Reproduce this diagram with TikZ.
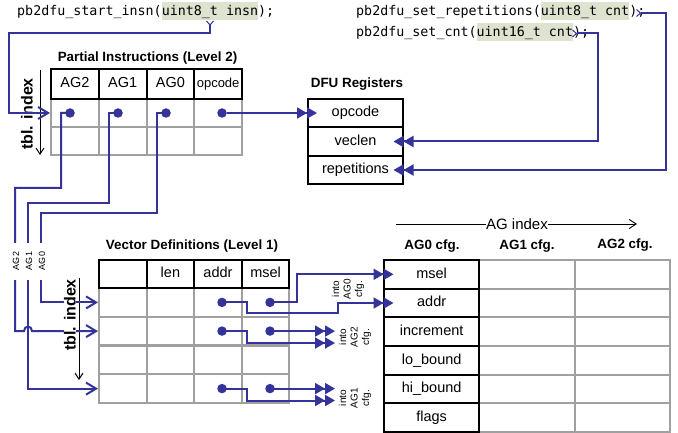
\documentclass[tikz,border=0pt]{standalone}
\usepackage{fontspec}
\setmainfont{Liberation Sans}
\setsansfont{Liberation Sans}
\setmonofont{DejaVu Sans Mono}
\usetikzlibrary{arrows.meta,calc}

\definecolor{linec}{RGB}{51,51,153}
\definecolor{gridgray}{RGB}{160,160,160}
\definecolor{hlgreen}{RGB}{221,227,207}

% shaded argument list in the API prototypes
\newcommand\argbox[1]{{\setlength{\fboxsep}{0pt}\colorbox{hlgreen}{\rule[-4.5pt]{0pt}{18pt}#1}}}

\tikzset{
  x=1pt, y=-1pt,
  dtri/.tip={Triangle[length=10pt,width=11pt] Triangle[length=10pt,width=11pt]},
  feedtip/.tip={Straight Barb[length=10pt,width=12pt]},
  marktip/.tip={Straight Barb[reversed,length=4pt,width=7pt,line width=1pt]},
  flow/.style={draw=linec, line width=2pt},
  cell/.style={draw=gridgray, line width=2pt, inner sep=0pt,
    text height=10.4pt, text depth=2.6pt,
    font=\fontsize{14.5}{17}\selectfont},
  hcell/.style={cell, draw=black},
  dot/.style={circle, fill=linec, inner sep=0pt, minimum size=9.5pt},
  title/.style={font=\bfseries\fontsize{13.4}{16}\selectfont, inner sep=0pt, anchor=base},
  code/.style={font=\ttfamily\fontsize{13.34}{16}\selectfont, inner sep=0pt, anchor=base west},
  guide/.style={draw=black, line width=1pt, -{Straight Barb[length=6pt,width=8pt]}},
  tblidx/.style={rotate=90, font=\bfseries\fontsize{16}{19}\selectfont, inner sep=0pt},
  intolab/.style={rotate=90, align=center, font=\fontsize{10}{11.5}\selectfont, inner sep=0pt},
  vlab/.style={rotate=90, font=\fontsize{9}{10}\selectfont, inner sep=0pt, fill=white,
    minimum width=37pt, minimum height=6pt,
    path picture={\draw[linec!55, densely dotted, line width=1pt]
      (path picture bounding box.west) -- (path picture bounding box.east);}},
}

\begin{document}
\begin{tikzpicture}
\fill[white] (0,0) rectangle (678,433);
\useasboundingbox (0,0) rectangle (678,433);

% ---------- API prototypes ----------
\node[code] (insn) at (17,16) {pb2dfu\_start\_insn(\argbox{uint8\_t insn});};
\node[code] (setrep) at (356,16) {pb2dfu\_set\_repetitions(\argbox{uint8\_t cnt});};
\node[code] (setcnt) at (356,37) {pb2dfu\_set\_cnt(\argbox{uint16\_t cnt});};
\coordinate (insnout) at (210,20.5);
\coordinate (repout) at (636,13);
\coordinate (cntout) at (572,33.5);

% ---------- Partial Instructions (Level 2) ----------
\node[title] (pititle) at (147.5,62) {Partial Instructions (Level 2)};
\foreach \i/\x in {1/74.875,2/122.625,3/170.375,4/218.125}{
  \node[cell, minimum width=47.75pt, minimum height=28pt] (pi1\i) at (\x,113) {};
  \node[cell, minimum width=47.75pt, minimum height=28pt] (pi2\i) at (\x,141) {};
}
\node[hcell, minimum width=47.75pt, minimum height=30pt] (pih1) at (74.875,84) {AG2};
\node[hcell, minimum width=47.75pt, minimum height=30pt] (pih2) at (122.625,84) {AG1};
\node[hcell, minimum width=47.75pt, minimum height=30pt] (pih3) at (170.375,84) {AG0};
\node[hcell, minimum width=47.75pt, minimum height=30pt, font=\fontsize{13}{15}\selectfont] (pih4) at (218.125,84) {opcode};

\node[dot] (d2) at (70,113) {};
\node[dot] (d1) at (118,113) {};
\node[dot] (d0) at (166,113) {};
\node[dot] (dop) at (222,113) {};

\node[tblidx] (ti1) at (27,114) {tbl. index};
\coordinate (t1a) at (40,70);
\coordinate (t1b) at (40,155);
\draw[guide] (t1a) -- (t1b);

% ---------- DFU Registers ----------
\node[title] (dfutitle) at (357,88) {DFU Registers};
\node[hcell, minimum width=95pt, minimum height=28.5pt] (rop) at (355.5,113) {opcode};
\node[hcell, minimum width=95pt, minimum height=28.5pt] (rvl) at (355.5,141.5) {veclen};
\node[hcell, minimum width=95pt, minimum height=28.5pt] (rrep) at (355.5,170) {repetitions};

% ---------- Vector Definitions (Level 1) ----------
\node[title] (vdtitle) at (192,249) {Vector Definitions (Level 1)};
\foreach \r/\y in {1/302.4,2/331.1,3/359.9,4/388.6}{
  \foreach \i/\x in {1/122.8,2/170.4,3/218.0,4/265.6}{
    \node[cell, minimum width=47.6pt, minimum height=28.75pt] (v\r\i) at (\x,\y) {};
  }
}
\node[hcell, minimum width=47.6pt, minimum height=28pt] (vh1) at (122.8,274) {};
\node[hcell, minimum width=47.6pt, minimum height=28pt] (vh2) at (170.4,274) {len};
\node[hcell, minimum width=47.6pt, minimum height=28pt] (vh3) at (218.0,274) {addr};
\node[hcell, minimum width=47.6pt, minimum height=28pt] (vh4) at (265.6,274) {msel};

\foreach \r in {1,2,4}{
  \node[dot] (a\r) at ($(v\r3.center)+(4,0)$) {};
  \node[dot] (m\r) at ($(v\r4.center)+(4.4,0)$) {};
}

\coordinate (t2a) at (79,278);
\coordinate (t2b) at (79,380);
\draw[guide] (t2a) -- (t2b);

% ---------- address generator configuration ----------
\coordinate (agi0) at (396,224);
\coordinate (agi1) at (637,224);
\draw[draw=black, line width=0.9pt, -{Straight Barb[length=7pt,width=9pt]}] (agi0) -- (agi1);
\node[fill=white, inner sep=0.6pt, font=\fontsize{15}{17}\selectfont] (agidx) at (517,224) {AG index};

\node[title] (h0) at (432,250) {AG0 cfg.};
\node[title] (h1) at (527,250) {AG1 cfg.};
\node[title] (h2) at (625,248) {AG2 cfg.};

\foreach \r/\y in {1/274.3,2/303.0,3/331.7,4/360.3,5/389.0,6/417.7}{
  \node[cell, minimum width=95.3pt, minimum height=28.67pt] (c1r\r) at (526.95,\y) {};
  \node[cell, minimum width=95.3pt, minimum height=28.67pt] (c2r\r) at (622.25,\y) {};
}
\foreach \r/\y/\t in {1/274.3/msel,2/303.0/addr,3/331.7/increment,4/360.3/lo\_bound,5/389.0/hi\_bound,6/417.7/flags}{
  \node[hcell, minimum width=95.3pt, minimum height=28.67pt] (c0r\r) at (431.65,\y) {\t};
}

% ---------- connectors ----------
% instruction index into the partial instruction table
\draw[flow, marktip-feedtip] (insnout) -- (210,33) -| (9,113) -- (pi11.west);
% opcode into the DFU register
\draw[flow, -dtri] (dop) -- ($(rop.west)+(10,0)$);
% counters into the DFU registers
\draw[flow, marktip-dtri] (cntout) -- (598,33.5) |- ($(rvl.east)+(-10.5,0)$);
\draw[flow, marktip-dtri] (repout) -- (666,13) |- ($(rrep.east)+(-10.5,0)$);

% per-AG vector indices into the vector definition table
\draw[flow, -feedtip] (d2.center) -| (61,188) -| ($(v21.west)+(-83,0)$)
  -- ($(v21.west)+(-74,0)$) .. controls +(0,-6) and +(0,-6) .. ($(v21.west)+(-66,0)$)
  -- (v21.west);
\draw[flow, -feedtip] (d1.center) -| (109,203) -| ($(v41.west)+(-70,0)$) -- (v41.west);
\draw[flow, -feedtip] (d0.center) -| (157,213) -| ($(v11.west)+(-57,0)$) -- (v11.west);

\node[vlab] (lab2) at (16,261) {AG2};
\node[vlab] (lab1) at (29,261) {AG1};
\node[vlab] (lab0) at (42,261) {AG0};

% vector fields into the AG configurations
\draw[flow, -dtri] (m1.center) -- ++(27,0) |- ($(c0r1.west)+(10.5,0)$);
\draw[flow, -dtri] (a1.center) -- ++(25,0) -- ++(0,10.6) -| ($(c0r2.west)+(-45,0)$)
  -- ($(c0r2.west)+(10.5,0)$);

\coordinate (ag2m) at (335,331.1);
\coordinate (ag2a) at (335,343);
\coordinate (ag1m) at (335,388.6);
\coordinate (ag1a) at (335,400.5);
\draw[flow, -dtri] (m2.center) -- (ag2m);
\draw[flow, -dtri] (a2.center) -- ++(25,0) |- (ag2a);
\draw[flow, -dtri] (m4.center) -- (ag1m);
\draw[flow, -dtri] (a4.center) -- ++(25,0) |- (ag1a);

\node[intolab] (into0) at (348,289) {into\\AG0\\cfg.};
\node[intolab] (into2) at (355,337) {into\\AG2\\cfg.};
\node[intolab] (into1) at (355,398) {into\\AG1\\cfg.};

\node[tblidx, fill=white] (ti2) at (70,315) {tbl. index};
\end{tikzpicture}
\end{document}
